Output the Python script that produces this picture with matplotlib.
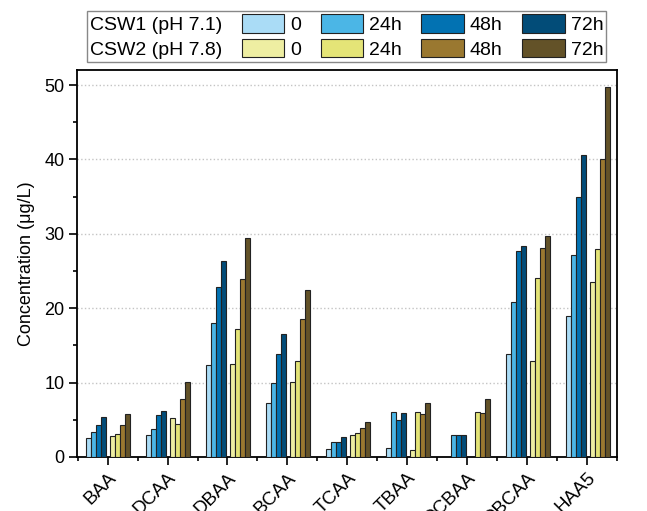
import numpy as np
import matplotlib
matplotlib.use('Agg')
import matplotlib.pyplot as plt
from matplotlib.patches import Patch
from matplotlib.transforms import ScaledTranslation

plt.rcParams['font.family'] = ['Liberation Sans', 'DejaVu Sans']

# ----- data (ug/L) -----
categories = ['BAA', 'DCAA', 'DBAA', 'BCAA', 'TCAA', 'TBAA', 'DCBAA', 'DBCAA', 'HAA5']
times = ['0', '24h', '48h', '72h']

csw1_0 = [2.5, 3.0, 12.4, 7.3, 1.1, 1.2, np.nan, 13.9, 18.9]
csw1_24 = [3.3, 3.8, 18.0, 10.0, 2.05, 6.0, 3.0, 20.9, 27.2]
csw1_48 = [4.3, 5.7, 22.8, 13.9, 2.05, 5.0, 3.0, 27.7, 34.9]
csw1_72 = [5.4, 6.2, 26.3, 16.6, 2.7, 5.9, 3.0, 28.4, 40.6]

csw2_0 = [2.85, 5.2, 12.5, 10.1, 3.0, 0.95, np.nan, 12.9, 23.5]
csw2_24 = [3.05, 4.4, 17.2, 12.9, 3.2, 6.1, 6.1, 24.1, 27.9]
csw2_48 = [4.3, 7.8, 23.9, 18.5, 3.9, 5.8, 5.9, 28.1, 40.0]
csw2_72 = [5.8, 10.1, 29.4, 22.5, 4.7, 7.2, 7.8, 29.7, 49.8]

csw1 = [csw1_0, csw1_24, csw1_48, csw1_72]
csw2 = [csw2_0, csw2_24, csw2_48, csw2_72]

blues = ['#aadcf6', '#4bb6e6', '#0272b2', '#024c78']
yellows = ['#eeeea2', '#e4e477', '#9a7830', '#635228']

# ----- plot -----
fig = plt.figure(figsize=(6.47, 5.11), dpi=100)
ax = fig.add_axes([0.119, 0.1057, 0.835, 0.757])

x = np.arange(len(categories))
w = 5 / 60
for i in range(4):
    ax.bar(x - 0.353 + (i + 0.5) * w, csw1[i], w, color=blues[i],
           edgecolor='#222222', linewidth=0.8, zorder=3)
    ax.bar(x + 0.047 + (i + 0.5) * w, csw2[i], w, color=yellows[i],
           edgecolor='#222222', linewidth=0.8, zorder=3)

ax.set_xlim(-0.51, 8.49)
ax.set_ylim(0, 52)
ax.set_yticks(np.arange(0, 51, 10))
ax.set_yticks(np.arange(5, 51, 10), minor=True)
ax.set_xticks(x)
ax.set_xticks(np.arange(-0.5, 9, 1), minor=True)
ax.set_xticklabels(categories, rotation=45, ha='right', va='top',
                   rotation_mode='anchor', fontsize=13.5)
off = ScaledTranslation(16 / 100, -4 / 100, fig.dpi_scale_trans)
for lab in ax.get_xticklabels():
    lab.set_transform(lab.get_transform() + off)
ax.tick_params(axis='y', labelsize=13)
ax.tick_params(which='major', direction='out', length=5.5, width=1.2)
ax.tick_params(which='minor', direction='out', length=3, width=1.2)
ax.grid(axis='y', which='major', linestyle=':', color='#c4c4c4', linewidth=1, zorder=0)
for s in ax.spines.values():
    s.set_linewidth(1.3)
ax.set_ylabel('Concentration (\u03bcg/L)', fontsize=13, labelpad=7)

# ----- legend: row labels + 4 time points -----
handles = [Patch(visible=False), Patch(visible=False)]
labels = ['CSW1 (pH 7.1)', 'CSW2 (pH 7.8)']
for i in range(4):
    handles += [Patch(facecolor=blues[i], edgecolor='#222222', linewidth=0.8),
                Patch(facecolor=yellows[i], edgecolor='#222222', linewidth=0.8)]
    labels += [times[i], times[i]]
leg = fig.legend(handles, labels, ncol=5, loc='upper left',
                 bbox_to_anchor=(87 / 647, 1 - 11 / 511), bbox_transform=fig.transFigure,
                 borderaxespad=0, fontsize=14, handlelength=2.2, handleheight=1.1,
                 handletextpad=0.3, columnspacing=1.0, labelspacing=0.25,
                 borderpad=0.15, fancybox=False, edgecolor='#888888', framealpha=1)
leg.get_frame().set_linewidth(1.0)
# first column holds only text, drop its empty handle space
for item in leg._legend_handle_box.get_children()[0].get_children():
    item.sep = 0
    item.get_children()[0].width = 0

fig.savefig('out.png', dpi=100)
